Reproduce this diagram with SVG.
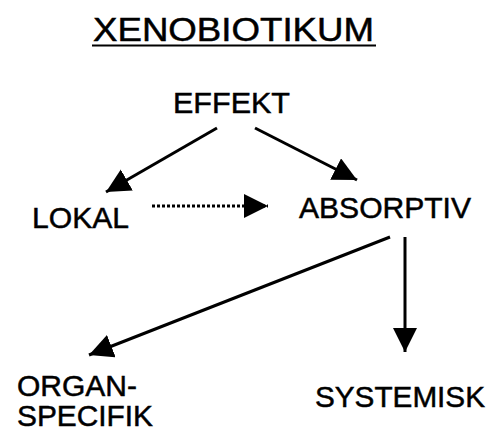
<svg xmlns="http://www.w3.org/2000/svg" width="497" height="430" viewBox="0 0 497 430">
  <style>
    .lbl { font-family: "Liberation Sans", Arial, sans-serif; fill: #000; stroke: #000; stroke-width: 0.5; }
    .edge { stroke: #000; stroke-width: 3; fill: none; }
    .dotted { stroke-dasharray: 3 2; }
  </style>
  <defs>
    <marker id="head" markerUnits="userSpaceOnUse" markerWidth="26" markerHeight="26" refX="24" refY="12" orient="auto">
      <path d="M0,0 L24,12 L0,24 z" fill="#000"/>
    </marker>
  </defs>
  <rect width="497" height="430" fill="#fff"/>

  <g id="title">
    <text class="lbl" x="93" y="41" font-size="33" textLength="281" lengthAdjust="spacingAndGlyphs">XENOBIOTIKUM</text>
    <line x1="92" y1="45.5" x2="376" y2="45.5" stroke="#000" stroke-width="2"/>
  </g>

  <g id="effekt">
    <text class="lbl" x="173" y="113" font-size="30" textLength="117" lengthAdjust="spacingAndGlyphs">EFFEKT</text>
  </g>
  <g id="lokal">
    <text class="lbl" x="32" y="228" font-size="30" textLength="97" lengthAdjust="spacingAndGlyphs">LOKAL</text>
  </g>
  <g id="absorptiv">
    <text class="lbl" x="299" y="218" font-size="30" textLength="172" lengthAdjust="spacingAndGlyphs">ABSORPTIV</text>
  </g>
  <g id="organspecifik">
    <text class="lbl" x="17" y="396" font-size="30" textLength="120" lengthAdjust="spacingAndGlyphs">ORGAN-</text>
    <text class="lbl" x="17" y="426" font-size="30" textLength="136" lengthAdjust="spacingAndGlyphs">SPECIFIK</text>
  </g>
  <g id="systemisk">
    <text class="lbl" x="315" y="407" font-size="30" textLength="170" lengthAdjust="spacingAndGlyphs">SYSTEMISK</text>
  </g>

  <g id="connectors">
    <path class="edge" d="M217,128 L106,192" marker-end="url(#head)"/>
    <path class="edge" d="M255,128 L357,180" marker-end="url(#head)"/>
    <path class="edge dotted" d="M152,206 L268,206" marker-end="url(#head)"/>
    <path class="edge" d="M390,237 L89,355" marker-end="url(#head)"/>
    <path class="edge" d="M405,237 L405,352" marker-end="url(#head)"/>
  </g>
</svg>
